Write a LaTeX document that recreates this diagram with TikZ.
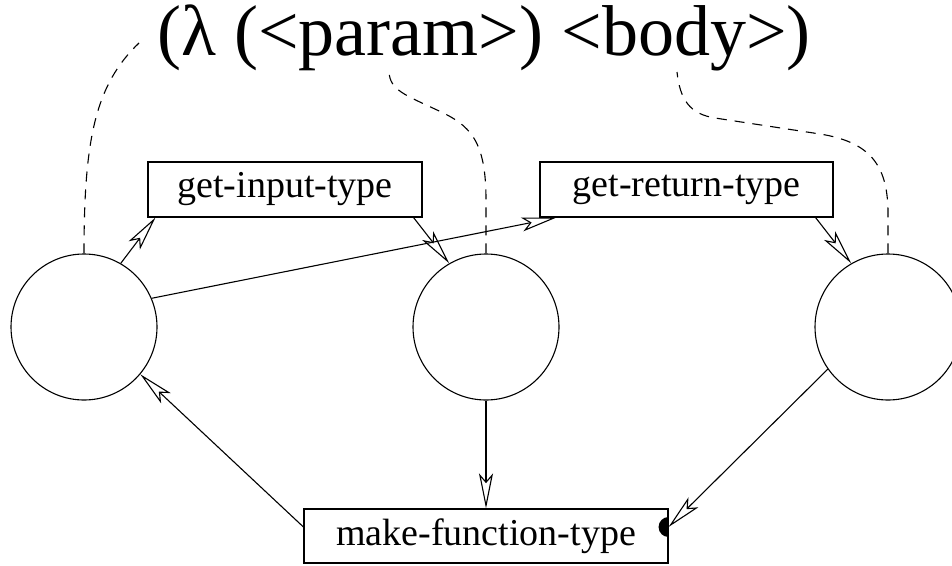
\documentclass[tikz,border=0pt]{standalone}
\usepackage{fontspec}
\setmainfont{Liberation Serif}
\usetikzlibrary{arrows.meta,calc}
\begin{document}
\begin{tikzpicture}[x=1pt,y=1pt, line width=1.1pt,
  state/.style={circle, draw, minimum size=146pt, inner sep=0pt},
  fbox/.style={draw, rectangle, minimum height=55pt, inner sep=0pt, font=\fontsize{38}{40}\selectfont},
  arr/.style={-{Stealth[open, length=35pt, width=14pt, inset=8pt]}},
  link/.style={dash pattern=on 10pt off 8pt}]
\useasboundingbox (0,0) rectangle (952,-565);
\node[state] (L) at (84,-327) {};
\node[state] (M) at (486,-327) {};
\node[state] (R) at (888,-327) {};
\node[fbox, minimum width=274pt] (gi) at (285,-189.5) {get-input-type};
\node[fbox, minimum width=293pt] (gr) at (686.5,-189.5) {get-return-type};
\node[fbox, minimum width=364pt, minimum height=54pt] (mf) at (486,-536) {make-function-type};
\node[anchor=base, font=\fontsize{72}{74}\selectfont, inner sep=0pt] (title) at (484,-55) {(λ (<param>) <body>)};
\coordinate (lamEnd) at (139,-43);
\coordinate (paramEnd) at (389,-72);
\coordinate (bodyEnd) at (677,-72);
\draw[link] (L.north) .. controls (84,-140) and (95,-85) .. (lamEnd);
\draw[link] (M.north) -- (486,-200) .. controls (486,-140) and (470,-125) .. (437,-110)
  .. controls (405,-95) and (390,-90) .. (paramEnd);
\draw[link] (R.north) -- (888,-210) .. controls (887,-165) and (870,-142) .. (820,-134)
  -- (715,-118) .. controls (690,-114) and (680,-100) .. (bodyEnd);
\draw[arr] (L.60) -- ($(gi.south west)+(8,0)$);
\draw[arr] ($(gi.south east)+(-9,0)$) -- (M.120);
\draw[arr] (L.23) -- ($(gr.south west)+(17,0)$);
\draw[arr] ($(gr.south east)+(-18,0)$) -- (R.120);
\draw[arr] (M.south) -- (mf.north);
\draw[arr] (R.215) -- ($(mf.east)+(0,9)$);
\draw[arr] ($(mf.west)+(0,9)$) -- (L.-40);
\fill ($(mf.east)+(0,19)$) arc[start angle=90, end angle=270, radius=10] -- cycle;
\end{tikzpicture}
\end{document}
